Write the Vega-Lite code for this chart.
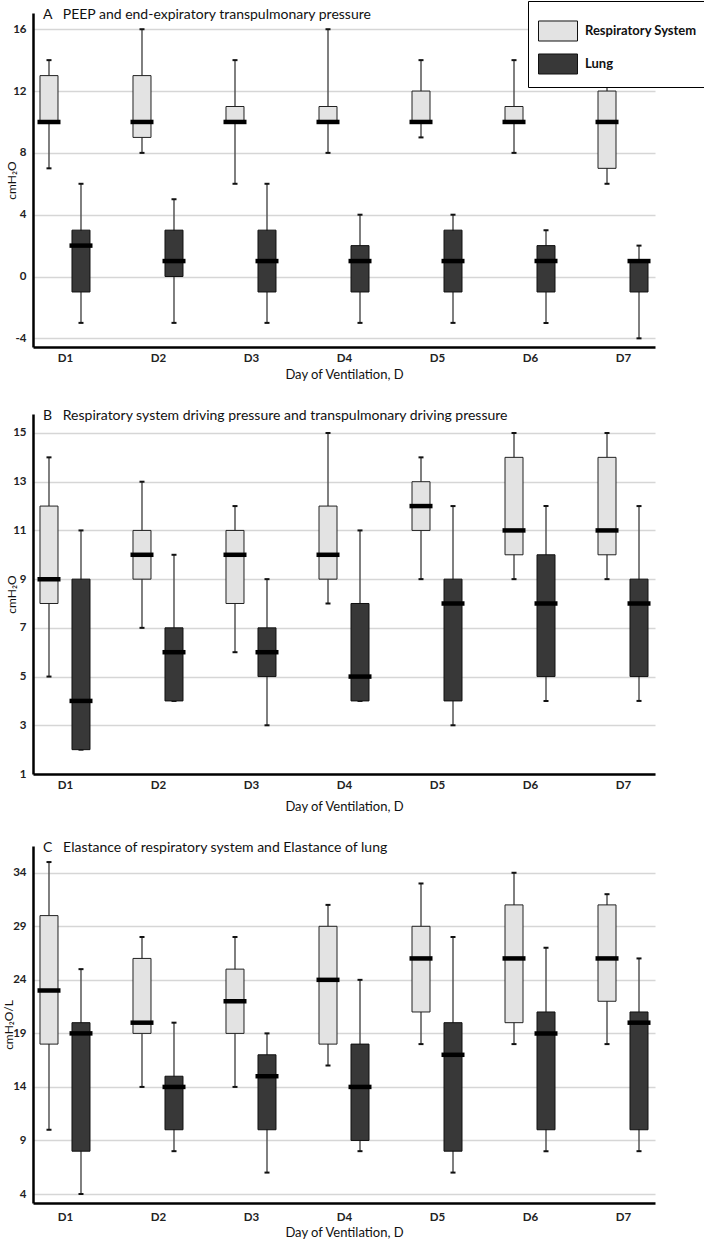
{
  "$schema": "https://vega.github.io/schema/vega-lite/v6.json",
  "background": "white",
  "padding": {"left": 2, "top": 0, "right": 0, "bottom": 0},
  "spacing": 27,
  "config": {
    "font": "Lato",
    "view": {"stroke": null},
    "axis": {"ticks": false, "domainColor": "#000", "domainWidth": 2.5, "gridColor": "#d6d6d6", "gridWidth": 1.5, "labelColor": "#222", "titleColor": "#111", "labelFont": "Lato", "titleFont": "Lato"},
    "axisY": {"grid": true, "labelFontSize": 11.5, "labelFontWeight": "bold", "labelPadding": 7, "titleFontSize": 12, "titleFontWeight": "normal", "titleX": -22, "titleBaseline": "middle", "labelExpr": "replace(datum.label, '−', '-')"},
    "axisX": {"grid": false, "labelAngle": 0, "labelFontSize": 11.5, "labelFontWeight": "bold", "labelPadding": 5, "titleFontSize": 13, "titleFontWeight": "normal", "titlePadding": 5},
    "title": {"anchor": "start", "frame": "group", "offset": -9, "fontSize": 14, "fontWeight": "normal", "font": "Lato", "dx": 10, "color": "#111"},
    "legend": {"labelFont": "Lato"}
  },
  "datasets": {
    "box": [
      {"panel": "A", "day": "D1", "series": "Respiratory System", "min": 7, "q1": 10, "median": 10, "q3": 13, "max": 14},
      {"panel": "A", "day": "D1", "series": "Lung", "min": -3, "q1": -1, "median": 2, "q3": 3, "max": 6},
      {"panel": "A", "day": "D2", "series": "Respiratory System", "min": 8, "q1": 9, "median": 10, "q3": 13, "max": 16},
      {"panel": "A", "day": "D2", "series": "Lung", "min": -3, "q1": 0, "median": 1, "q3": 3, "max": 5},
      {"panel": "A", "day": "D3", "series": "Respiratory System", "min": 6, "q1": 10, "median": 10, "q3": 11, "max": 14},
      {"panel": "A", "day": "D3", "series": "Lung", "min": -3, "q1": -1, "median": 1, "q3": 3, "max": 6},
      {"panel": "A", "day": "D4", "series": "Respiratory System", "min": 8, "q1": 10, "median": 10, "q3": 11, "max": 16},
      {"panel": "A", "day": "D4", "series": "Lung", "min": -3, "q1": -1, "median": 1, "q3": 2, "max": 4},
      {"panel": "A", "day": "D5", "series": "Respiratory System", "min": 9, "q1": 10, "median": 10, "q3": 12, "max": 14},
      {"panel": "A", "day": "D5", "series": "Lung", "min": -3, "q1": -1, "median": 1, "q3": 3, "max": 4},
      {"panel": "A", "day": "D6", "series": "Respiratory System", "min": 8, "q1": 10, "median": 10, "q3": 11, "max": 14},
      {"panel": "A", "day": "D6", "series": "Lung", "min": -3, "q1": -1, "median": 1, "q3": 2, "max": 3},
      {"panel": "A", "day": "D7", "series": "Respiratory System", "min": 6, "q1": 7, "median": 10, "q3": 12, "max": 13},
      {"panel": "A", "day": "D7", "series": "Lung", "min": -4, "q1": -1, "median": 1, "q3": 1, "max": 2},
      {"panel": "B", "day": "D1", "series": "Respiratory System", "min": 5, "q1": 8, "median": 9, "q3": 12, "max": 14},
      {"panel": "B", "day": "D1", "series": "Lung", "min": 2, "q1": 2, "median": 4, "q3": 9, "max": 11},
      {"panel": "B", "day": "D2", "series": "Respiratory System", "min": 7, "q1": 9, "median": 10, "q3": 11, "max": 13},
      {"panel": "B", "day": "D2", "series": "Lung", "min": 4, "q1": 4, "median": 6, "q3": 7, "max": 10},
      {"panel": "B", "day": "D3", "series": "Respiratory System", "min": 6, "q1": 8, "median": 10, "q3": 11, "max": 12},
      {"panel": "B", "day": "D3", "series": "Lung", "min": 3, "q1": 5, "median": 6, "q3": 7, "max": 9},
      {"panel": "B", "day": "D4", "series": "Respiratory System", "min": 8, "q1": 9, "median": 10, "q3": 12, "max": 15},
      {"panel": "B", "day": "D4", "series": "Lung", "min": 4, "q1": 4, "median": 5, "q3": 8, "max": 11},
      {"panel": "B", "day": "D5", "series": "Respiratory System", "min": 9, "q1": 11, "median": 12, "q3": 13, "max": 14},
      {"panel": "B", "day": "D5", "series": "Lung", "min": 3, "q1": 4, "median": 8, "q3": 9, "max": 12},
      {"panel": "B", "day": "D6", "series": "Respiratory System", "min": 9, "q1": 10, "median": 11, "q3": 14, "max": 15},
      {"panel": "B", "day": "D6", "series": "Lung", "min": 4, "q1": 5, "median": 8, "q3": 10, "max": 12},
      {"panel": "B", "day": "D7", "series": "Respiratory System", "min": 9, "q1": 10, "median": 11, "q3": 14, "max": 15},
      {"panel": "B", "day": "D7", "series": "Lung", "min": 4, "q1": 5, "median": 8, "q3": 9, "max": 12},
      {"panel": "C", "day": "D1", "series": "Respiratory System", "min": 10, "q1": 18, "median": 23, "q3": 30, "max": 35},
      {"panel": "C", "day": "D1", "series": "Lung", "min": 4, "q1": 8, "median": 19, "q3": 20, "max": 25},
      {"panel": "C", "day": "D2", "series": "Respiratory System", "min": 14, "q1": 19, "median": 20, "q3": 26, "max": 28},
      {"panel": "C", "day": "D2", "series": "Lung", "min": 8, "q1": 10, "median": 14, "q3": 15, "max": 20},
      {"panel": "C", "day": "D3", "series": "Respiratory System", "min": 14, "q1": 19, "median": 22, "q3": 25, "max": 28},
      {"panel": "C", "day": "D3", "series": "Lung", "min": 6, "q1": 10, "median": 15, "q3": 17, "max": 19},
      {"panel": "C", "day": "D4", "series": "Respiratory System", "min": 16, "q1": 18, "median": 24, "q3": 29, "max": 31},
      {"panel": "C", "day": "D4", "series": "Lung", "min": 8, "q1": 9, "median": 14, "q3": 18, "max": 24},
      {"panel": "C", "day": "D5", "series": "Respiratory System", "min": 18, "q1": 21, "median": 26, "q3": 29, "max": 33},
      {"panel": "C", "day": "D5", "series": "Lung", "min": 6, "q1": 8, "median": 17, "q3": 20, "max": 28},
      {"panel": "C", "day": "D6", "series": "Respiratory System", "min": 18, "q1": 20, "median": 26, "q3": 31, "max": 34},
      {"panel": "C", "day": "D6", "series": "Lung", "min": 8, "q1": 10, "median": 19, "q3": 21, "max": 27},
      {"panel": "C", "day": "D7", "series": "Respiratory System", "min": 18, "q1": 22, "median": 26, "q3": 31, "max": 32},
      {"panel": "C", "day": "D7", "series": "Lung", "min": 8, "q1": 10, "median": 20, "q3": 21, "max": 26}
    ]
  },
  "data": {"name": "box"},
  "vconcat": [
    {
      "width": 622, "height": 334,
      "title": {"text": "A\u00a0\u00a0\u00a0PEEP and end-expiratory transpulmonary pressure"},
      "transform": [{"filter": "datum.panel == 'A'"}],
      "encoding": {"x": {"field": "day", "type": "ordinal", "scale": {"type": "point", "padding": 0.344}, "axis": {"title": "Day of Ventilation, D", "labelPadding": 5, "titlePadding": 5}}},
      "layer": [
        {"transform": [{"filter": "datum.series == 'Respiratory System'"}], "mark": {"type": "rule", "xOffset": -16, "color": "#555", "strokeWidth": 1.5},
         "encoding": {"y": {"field": "min", "type": "quantitative", "title": "cmH₂O", "scale": {"domain": [-4.56, 17.05], "nice": false, "zero": false}, "axis": {"values": [-4, -2, 0, 2, 4, 6, 8, 10, 12, 14, 16]}}, "y2": {"field": "max"}}},
        {"transform": [{"filter": "datum.series == 'Lung'"}], "mark": {"type": "rule", "xOffset": 16, "color": "#555", "strokeWidth": 1.5},
         "encoding": {"y": {"field": "min", "type": "quantitative", "title": "cmH₂O"}, "y2": {"field": "max"}}},
        {"transform": [{"filter": "datum.series == 'Respiratory System'"}, {"fold": ["min", "max"], "as": ["stat", "val"]}], "mark": {"type": "tick", "xOffset": -16, "color": "#111", "opacity": 1, "size": 5, "thickness": 2},
         "encoding": {"y": {"field": "val", "type": "quantitative", "title": "cmH₂O"}}},
        {"transform": [{"filter": "datum.series == 'Lung'"}, {"fold": ["min", "max"], "as": ["stat", "val"]}], "mark": {"type": "tick", "xOffset": 16, "color": "#111", "opacity": 1, "size": 5, "thickness": 2},
         "encoding": {"y": {"field": "val", "type": "quantitative", "title": "cmH₂O"}}},
        {"transform": [{"filter": "datum.series == 'Respiratory System'"}], "mark": {"type": "bar", "xOffset": -16, "width": 18, "stroke": "#222", "strokeWidth": 1, "opacity": 1},
         "encoding": {"y": {"field": "q1", "type": "quantitative", "title": "cmH₂O"}, "y2": {"field": "q3"},
           "color": {"field": "series", "type": "nominal", "scale": {"domain": ["Respiratory System", "Lung"], "range": ["#e3e3e3", "#383838"]},
             "legend": {"title": null, "orient": "none", "legendX": 495, "legendY": -12, "direction": "vertical", "symbolType": "M-1,-0.513H1V0.513H-1Z", "symbolSize": 1521, "symbolStrokeColor": "#333", "symbolStrokeWidth": 1, "symbolOpacity": 1, "labelFontSize": 13, "labelFontWeight": "bold", "labelColor": "#111", "labelOffset": 7, "rowPadding": -6, "padding": 10, "strokeColor": "#000", "fillColor": "#fff", "cornerRadius": 0}}}},
        {"transform": [{"filter": "datum.series == 'Lung'"}], "mark": {"type": "bar", "xOffset": 16, "width": 18, "stroke": "#111", "strokeWidth": 1, "opacity": 1},
         "encoding": {"y": {"field": "q1", "type": "quantitative", "title": "cmH₂O"}, "y2": {"field": "q3"}, "color": {"field": "series", "type": "nominal"}}},
        {"transform": [{"filter": "datum.series == 'Respiratory System'"}], "mark": {"type": "tick", "xOffset": -16, "color": "#000", "opacity": 1, "size": 23, "thickness": 4.5},
         "encoding": {"y": {"field": "median", "type": "quantitative", "title": "cmH₂O"}}},
        {"transform": [{"filter": "datum.series == 'Lung'"}], "mark": {"type": "tick", "xOffset": 16, "color": "#000", "opacity": 1, "size": 23, "thickness": 4.5},
         "encoding": {"y": {"field": "median", "type": "quantitative", "title": "cmH₂O"}}}
      ]
    },
    {
      "width": 622, "height": 360,
      "title": {"text": "B\u00a0\u00a0\u00a0Respiratory system driving pressure and transpulmonary driving pressure"},
      "transform": [{"filter": "datum.panel == 'B'"}],
      "encoding": {"x": {"field": "day", "type": "ordinal", "scale": {"type": "point", "padding": 0.344}, "axis": {"title": "Day of Ventilation, D", "labelPadding": 5, "titlePadding": 10}}},
      "layer": [
        {"transform": [{"filter": "datum.series == 'Respiratory System'"}], "mark": {"type": "rule", "xOffset": -16, "color": "#555", "strokeWidth": 1.5},
         "encoding": {"y": {"field": "min", "type": "quantitative", "title": "cmH₂O", "scale": {"domain": [1, 15.78], "nice": false, "zero": false}, "axis": {"values": [1, 3, 5, 7, 9, 11, 13, 15]}}, "y2": {"field": "max"}}},
        {"transform": [{"filter": "datum.series == 'Lung'"}], "mark": {"type": "rule", "xOffset": 16, "color": "#555", "strokeWidth": 1.5},
         "encoding": {"y": {"field": "min", "type": "quantitative", "title": "cmH₂O"}, "y2": {"field": "max"}}},
        {"transform": [{"filter": "datum.series == 'Respiratory System'"}, {"fold": ["min", "max"], "as": ["stat", "val"]}], "mark": {"type": "tick", "xOffset": -16, "color": "#111", "opacity": 1, "size": 5, "thickness": 2},
         "encoding": {"y": {"field": "val", "type": "quantitative", "title": "cmH₂O"}}},
        {"transform": [{"filter": "datum.series == 'Lung'"}, {"fold": ["min", "max"], "as": ["stat", "val"]}], "mark": {"type": "tick", "xOffset": 16, "color": "#111", "opacity": 1, "size": 5, "thickness": 2},
         "encoding": {"y": {"field": "val", "type": "quantitative", "title": "cmH₂O"}}},
        {"transform": [{"filter": "datum.series == 'Respiratory System'"}], "mark": {"type": "bar", "xOffset": -16, "width": 18, "stroke": "#222", "strokeWidth": 1, "color": "#e3e3e3", "opacity": 1},
         "encoding": {"y": {"field": "q1", "type": "quantitative", "title": "cmH₂O"}, "y2": {"field": "q3"}}},
        {"transform": [{"filter": "datum.series == 'Lung'"}], "mark": {"type": "bar", "xOffset": 16, "width": 18, "stroke": "#111", "strokeWidth": 1, "color": "#383838", "opacity": 1},
         "encoding": {"y": {"field": "q1", "type": "quantitative", "title": "cmH₂O"}, "y2": {"field": "q3"}}},
        {"transform": [{"filter": "datum.series == 'Respiratory System'"}], "mark": {"type": "tick", "xOffset": -16, "color": "#000", "opacity": 1, "size": 23, "thickness": 4.5},
         "encoding": {"y": {"field": "median", "type": "quantitative", "title": "cmH₂O"}}},
        {"transform": [{"filter": "datum.series == 'Lung'"}], "mark": {"type": "tick", "xOffset": 16, "color": "#000", "opacity": 1, "size": 23, "thickness": 4.5},
         "encoding": {"y": {"field": "median", "type": "quantitative", "title": "cmH₂O"}}}
      ]
    },
    {
      "width": 622, "height": 357,
      "title": {"text": "C\u00a0\u00a0\u00a0Elastance of respiratory system and Elastance of lung"},
      "transform": [{"filter": "datum.panel == 'C'"}],
      "encoding": {"x": {"field": "day", "type": "ordinal", "scale": {"type": "point", "padding": 0.344}, "axis": {"title": "Day of Ventilation, D", "labelPadding": 8, "titlePadding": 4}}},
      "layer": [
        {"transform": [{"filter": "datum.series == 'Respiratory System'"}], "mark": {"type": "rule", "xOffset": -16, "color": "#555", "strokeWidth": 1.5},
         "encoding": {"y": {"field": "min", "type": "quantitative", "title": "cmH₂O/L", "scale": {"domain": [3.16, 36.5], "nice": false, "zero": false}, "axis": {"values": [4, 9, 14, 19, 24, 29, 34], "titleX": -25}}, "y2": {"field": "max"}}},
        {"transform": [{"filter": "datum.series == 'Lung'"}], "mark": {"type": "rule", "xOffset": 16, "color": "#555", "strokeWidth": 1.5},
         "encoding": {"y": {"field": "min", "type": "quantitative", "title": "cmH₂O/L"}, "y2": {"field": "max"}}},
        {"transform": [{"filter": "datum.series == 'Respiratory System'"}, {"fold": ["min", "max"], "as": ["stat", "val"]}], "mark": {"type": "tick", "xOffset": -16, "color": "#111", "opacity": 1, "size": 5, "thickness": 2},
         "encoding": {"y": {"field": "val", "type": "quantitative", "title": "cmH₂O/L"}}},
        {"transform": [{"filter": "datum.series == 'Lung'"}, {"fold": ["min", "max"], "as": ["stat", "val"]}], "mark": {"type": "tick", "xOffset": 16, "color": "#111", "opacity": 1, "size": 5, "thickness": 2},
         "encoding": {"y": {"field": "val", "type": "quantitative", "title": "cmH₂O/L"}}},
        {"transform": [{"filter": "datum.series == 'Respiratory System'"}], "mark": {"type": "bar", "xOffset": -16, "width": 18, "stroke": "#222", "strokeWidth": 1, "color": "#e3e3e3", "opacity": 1},
         "encoding": {"y": {"field": "q1", "type": "quantitative", "title": "cmH₂O/L"}, "y2": {"field": "q3"}}},
        {"transform": [{"filter": "datum.series == 'Lung'"}], "mark": {"type": "bar", "xOffset": 16, "width": 18, "stroke": "#111", "strokeWidth": 1, "color": "#383838", "opacity": 1},
         "encoding": {"y": {"field": "q1", "type": "quantitative", "title": "cmH₂O/L"}, "y2": {"field": "q3"}}},
        {"transform": [{"filter": "datum.series == 'Respiratory System'"}], "mark": {"type": "tick", "xOffset": -16, "color": "#000", "opacity": 1, "size": 23, "thickness": 4.5},
         "encoding": {"y": {"field": "median", "type": "quantitative", "title": "cmH₂O/L"}}},
        {"transform": [{"filter": "datum.series == 'Lung'"}], "mark": {"type": "tick", "xOffset": 16, "color": "#000", "opacity": 1, "size": 23, "thickness": 4.5},
         "encoding": {"y": {"field": "median", "type": "quantitative", "title": "cmH₂O/L"}}}
      ]
    }
  ]
}
